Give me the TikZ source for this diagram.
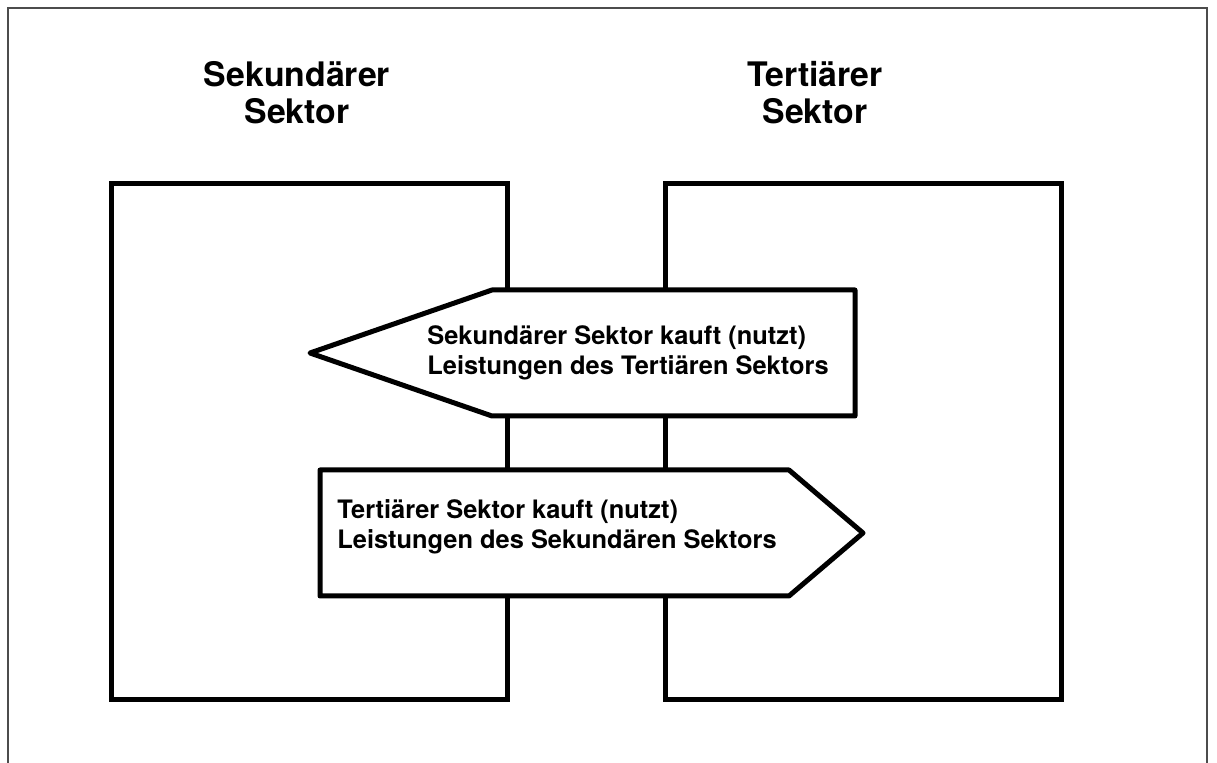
\documentclass[tikz,border=0pt]{standalone}
\usepackage{fontspec}
\setmainfont{TeX Gyre Heros}
\usetikzlibrary{positioning}
\tikzset{
  sektorbox/.style={draw, line width=2.5pt, minimum width=198pt, minimum height=258pt, inner sep=0pt},
  pfeil/.style={draw, line width=2.5pt, line join=round, fill=white},
  titel/.style={font=\fontsize{16.9}{18.5}\selectfont\bfseries, align=center},
  pfeiltext/.style={font=\fontsize{12.7}{15}\selectfont\bfseries, align=left, anchor=west, inner sep=0pt}
}
\begin{document}
\begin{tikzpicture}[x=0.5pt, y=-0.5pt]
            \useasboundingbox (0,0) rectangle (1217,763);
            % Outer frame (bottom edge cut off)
            \coordinate (r1) at (8,763);
            \coordinate (r2) at (8,8);
            \coordinate (r3) at (1207,8);
            \coordinate (r4) at (1207,763);
            \draw[line width=1pt, black!70] (r1) -- (r2) -- (r3) -- (r4);

            % Titles
            \node[titel] (t1) at (297,93) {Sekund\"arer\\Sektor};
            \node[titel] (t2) at (815,93) {Terti\"arer\\Sektor};

            % Sector boxes
            \node[sektorbox] (sek) at (309,442) {};
            \node[sektorbox] (ter) at (863,442) {};

            % Upper arrow: pointing left
            \begin{scope}
              \coordinate (a0) at (310,353);
              \coordinate (a1) at (492,290);
              \coordinate (a2) at (855,290);
              \coordinate (a3) at (855,416);
              \coordinate (a4) at (492,416);
              \draw[pfeil] (a0) -- (a1) -- (a2) -- (a3) -- (a4) -- cycle;
              \node[pfeiltext] (txt1) at (427,353) {Sekund\"arer Sektor kauft (nutzt)\\Leistungen des Terti\"aren Sektors};
            \end{scope}

            % Lower arrow: pointing right
            \begin{scope}
              \coordinate (b0) at (863,533);
              \coordinate (b1) at (789,470);
              \coordinate (b2) at (320,470);
              \coordinate (b3) at (320,596);
              \coordinate (b4) at (789,596);
              \draw[pfeil] (b0) -- (b1) -- (b2) -- (b3) -- (b4) -- cycle;
              \node[pfeiltext] (txt2) at (337,527) {Terti\"arer Sektor kauft (nutzt)\\Leistungen des Sekund\"aren Sektors};
            \end{scope}
          \end{tikzpicture}
\end{document}
